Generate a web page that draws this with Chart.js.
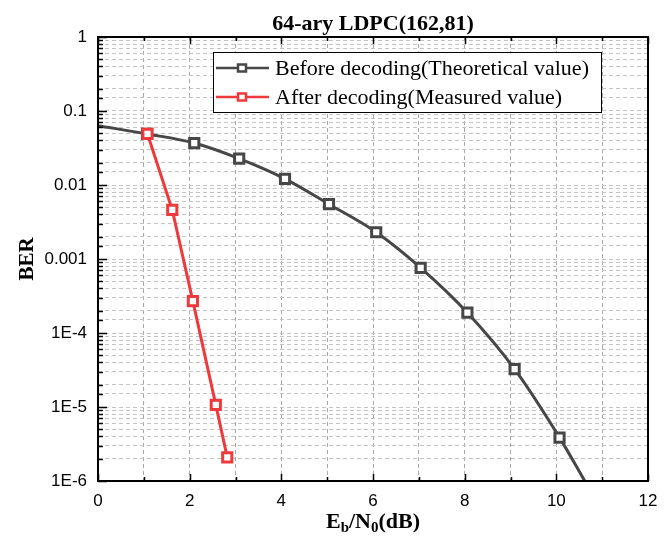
<!DOCTYPE html>
<html>
<head>
<meta charset="utf-8">
<script src="https://cdn.jsdelivr.net/npm/chart.js@4/dist/chart.umd.min.js"></script>
<style>
  html, body { margin: 0; padding: 0; background: #fff; }
  #wrap { width: 670px; height: 546px; }
</style>
</head>
<body>
<div id="wrap"><canvas id="berChart" width="670" height="546"></canvas></div>
<script>
// data
const beforeX = [0, 1.07, 2.1, 3.08, 4.08, 5.04, 6.07, 7.04, 8.06, 9.09, 10.07, 10.62];
const beforeY = [0.0634, 0.049, 0.0369, 0.0227, 0.0121, 0.0055, 0.0023, 7.6e-4, 1.88e-4, 3.25e-5, 3.86e-6, 1e-6];
const afterX = [1.08, 1.62, 2.07, 2.57, 2.82];
const afterY = [0.049, 0.00461, 2.7e-4, 1.07e-5, 2.09e-6];
const seriesNames = ['Before decoding(Theoretical value)', 'After decoding(Measured value)'];
const yTickLabels = { '-6': '1E-6', '-5': '1E-5', '-4': '1E-4', '-3': '0.001', '-2': '0.01', '-1': '0.1', '0': '1' };
const xTickLabels = ['0', '2', '4', '6', '8', '10', '12'];

const DARK = '#474747';
const RED = '#ee3a3c';

function toPoints(xs, ys) {
  return xs.map((x, i) => ({ x: x, y: ys[i] }));
}

// no marker on the first / last point of the theoretical curve
const beforeRadius = beforeX.map((x, i) => (i === 0 || i === beforeX.length - 1) ? 0 : 6.5);

function isDecade(v) {
  const e = Math.log10(v);
  return Math.abs(e - Math.round(e)) < 1e-9;
}

const framePlugin = {
  id: 'frame',
  afterDatasetsDraw(chart) {
    const { ctx, chartArea: a, scales } = chart;
    const xs = scales.x, ys = scales.y;
    ctx.save();
    ctx.strokeStyle = '#000';
    ctx.lineWidth = 1.5;
    ctx.beginPath();
    // inward ticks, x axis (bottom and top)
    for (let v = 0; v <= 12; v++) {
      const px = Math.round(xs.getPixelForValue(v)) + 0.5;
      const len = v % 2 === 0 ? 7 : 4;
      ctx.moveTo(px, a.bottom); ctx.lineTo(px, a.bottom - len);
      ctx.moveTo(px, a.top); ctx.lineTo(px, a.top + len);
    }
    // inward ticks, y axis (left)
    ys.ticks.forEach(t => {
      const py = Math.round(ys.getPixelForValue(t.value)) + 0.5;
      const len = isDecade(t.value) ? 9 : 5;
      ctx.moveTo(a.left, py); ctx.lineTo(a.left + len, py);
    });
    ctx.stroke();
    ctx.lineWidth = 2;
    ctx.strokeRect(a.left, a.top, a.right - a.left, a.bottom - a.top);

    // legend box inside the plot
    const bx = 213, by = 52, bw = 388, bh = 60;
    ctx.fillStyle = '#fff';
    ctx.fillRect(bx, by, bw, bh);
    ctx.lineWidth = 1;
    ctx.strokeStyle = '#000';
    ctx.strokeRect(bx + 0.5, by + 0.5, bw, bh);
    const rows = [
      { label: seriesNames[0], color: DARK, y: 68 },
      { label: seriesNames[1], color: RED, y: 97 }
    ];
    ctx.font = '22px "Liberation Serif"';
    ctx.textBaseline = 'middle';
    ctx.textAlign = 'left';
    rows.forEach(r => {
      ctx.strokeStyle = r.color;
      ctx.lineWidth = 2.5;
      ctx.beginPath();
      ctx.moveTo(216, r.y); ctx.lineTo(269, r.y);
      ctx.stroke();
      ctx.fillStyle = '#fff';
      ctx.fillRect(238, r.y - 3.5, 8, 7);
      ctx.strokeRect(238, r.y - 3.5, 8, 7);
      ctx.fillStyle = '#000';
      ctx.fillText(r.label, 275, r.y + 1);
    });

    // title
    ctx.font = 'bold 22px "Liberation Serif"';
    ctx.textAlign = 'center';
    ctx.textBaseline = 'alphabetic';
    ctx.fillText('64-ary LDPC(162,81)', (a.left + a.right) / 2, 30);

    // y axis title
    ctx.save();
    ctx.font = 'bold 21px "Liberation Serif"';
    ctx.translate(33, (a.top + a.bottom) / 2);
    ctx.rotate(-Math.PI / 2);
    ctx.fillText('BER', 0, 0);
    ctx.restore();

    // x axis title with subscripts
    const parts = [
      { t: 'E', f: 'bold 22px "Liberation Serif"', dy: 0 },
      { t: 'b', f: 'bold 15px "Liberation Serif"', dy: 4 },
      { t: '/N', f: 'bold 22px "Liberation Serif"', dy: 0 },
      { t: '0', f: 'bold 15px "Liberation Serif"', dy: 4 },
      { t: '(dB)', f: 'bold 22px "Liberation Serif"', dy: 0 }
    ];
    let total = 0;
    parts.forEach(p => { ctx.font = p.f; p.w = ctx.measureText(p.t).width; total += p.w; });
    let cx = (a.left + a.right) / 2 - total / 2;
    ctx.textAlign = 'left';
    parts.forEach(p => {
      ctx.font = p.f;
      ctx.fillText(p.t, cx, 528 + p.dy);
      cx += p.w;
    });
    ctx.restore();
  }
};

const config = {
  type: 'line',
  data: {
    datasets: [
      {
        label: seriesNames[0],
        data: toPoints(beforeX, beforeY),
        borderColor: DARK,
        backgroundColor: '#fff',
        borderWidth: 3,
        pointStyle: 'rect',
        pointRadius: beforeRadius,
        pointBorderWidth: 3,
        pointBorderColor: DARK,
        pointBackgroundColor: '#fff',
        cubicInterpolationMode: 'monotone',
        order: 2
      },
      {
        label: seriesNames[1],
        data: toPoints(afterX, afterY),
        borderColor: RED,
        backgroundColor: '#fff',
        borderWidth: 3,
        pointStyle: 'rect',
        pointRadius: 6.5,
        pointBorderWidth: 3,
        pointBorderColor: RED,
        pointBackgroundColor: '#fff',
        tension: 0,
        order: 1
      }
    ]
  },
  options: {
    responsive: false,
    animation: false,
    layout: { padding: { top: 37, right: 22, left: 0, bottom: 0 } },
    plugins: {
      legend: { display: false },
      title: { display: false },
      tooltip: { enabled: false }
    },
    scales: {
      x: {
        type: 'linear',
        min: 0,
        max: 12,
        afterFit(s) { s.height = 65; },
        border: { display: false, dash: [4, 3] },
        grid: { color: '#a8a8a8', lineWidth: 1, drawTicks: false },
        ticks: {
          stepSize: 1,
          padding: 10,
          color: '#000',
          font: { family: '"Liberation Sans"', size: 17 },
          maxRotation: 0,
          autoSkip: false,
          callback: v => (v % 2 === 0 ? xTickLabels[v / 2] : '')
        }
      },
      y: {
        type: 'logarithmic',
        min: 1e-6,
        max: 1,
        afterFit(s) { s.width = 98; },
        border: { display: false, dash: [4, 3] },
        grid: { color: '#c4c4c4', lineWidth: 1, drawTicks: false },
        ticks: {
          padding: 11,
          color: '#000',
          font: { family: '"Liberation Sans"', size: 17 },
          autoSkip: false,
          callback: v => (isDecade(v) ? yTickLabels[String(Math.round(Math.log10(v)))] : '')
        }
      }
    }
  },
  plugins: [framePlugin]
};

new Chart(document.getElementById('berChart'), config);
</script>
</body>
</html>
